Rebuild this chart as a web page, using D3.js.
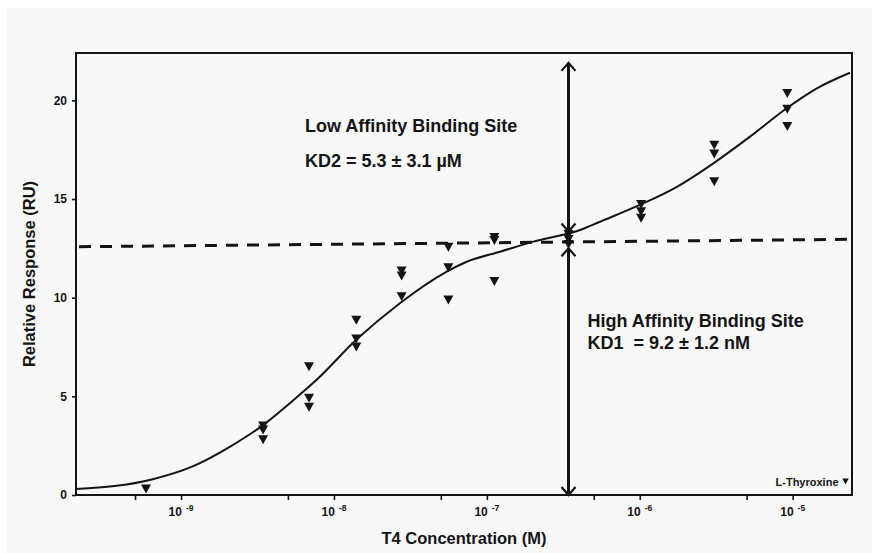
<!DOCTYPE html>
<html>
<head>
<meta charset="utf-8">
<script src="https://cdn.jsdelivr.net/npm/d3@7"></script>
<style>
  html, body { margin: 0; padding: 0; background: #ffffff; }
  svg { display: block; font-family: "Liberation Sans", Arial, Helvetica, sans-serif; }
</style>
</head>
<body>
<svg id="chart" width="872" height="553"></svg>
<script>
// Measured T4 concentrations (M) and the replicate SPR responses (RU) at each one
const concentrations = [5.9e-10, 3.44e-9, 6.87e-9, 1.40e-8, 2.77e-8, 5.6e-8, 1.12e-7, 3.42e-7, 1.02e-6, 3.07e-6, 9.22e-6];
const responses = [
  [0.3],
  [3.5, 3.3, 2.8],
  [6.5, 4.9, 4.45],
  [8.85, 7.9, 7.5],
  [11.35, 11.1, 10.05],
  [12.55, 11.52, 9.88],
  [13.05, 12.9, 10.82],
  [13.2, 12.95, 12.7],
  [14.72, 14.36, 14.02],
  [17.72, 17.28, 15.88],
  [20.35, 19.55, 18.67]
];

// Two-site fit curve
const fitConcentrations = [2.06e-10, 6.53e-10, 1.19e-9, 2.07e-9, 3.42e-9, 5.1e-9, 7.64e-9, 1.41e-8, 2.70e-8, 5.47e-8, 7.39e-8, 1.22e-7, 2.01e-7, 4.07e-7, 5.5e-7, 1.0e-6, 1.75e-6, 3.03e-6, 5.26e-6, 9.14e-6, 1.44e-5, 2.37e-5];
const fitResponses      = [0.3, 0.8, 1.45, 2.43, 3.53, 4.63, 5.81, 7.89, 9.72, 11.32, 11.82, 12.33, 12.84, 13.43, 13.85, 14.7, 15.62, 16.81, 18.16, 19.6, 20.61, 21.4];

// Plateau of the high-affinity site (dashed), value at left and right edges
const plateauLevels = [12.58, 12.96];

// Double arrows marking the two binding-site amplitudes
const arrowConcentration = 3.42e-7;
const lowAffinitySpan = [21.9, 13.35];
const highAffinitySpan = [12.5, 0];

// Axis ticks
const yTicks = [0, 5, 10, 15, 20];
const xDecadeExponents = [-9, -8, -7, -6, -5];
const xHalfDecadeTicks = [5e-10, 5e-9, 5e-8, 5e-7, 5e-6];

// Texts
const lowAffinityLines = ["Low Affinity Binding Site", "KD2 = 5.3 \u00b1 3.1 \u00b5M"];
const highAffinityLines = ["High Affinity Binding Site", "KD1  = 9.2 \u00b1 1.2 nM"];
const seriesName = "L-Thyroxine";
const xTitle = "T4 Concentration (M)";
const yTitle = "Relative Response (RU)";

const W = 872, H = 553;
const plot = { left: 76, top: 53, right: 852, bottom: 495 };
const ink = "#141414";

const svg = d3.select("#chart");

// light panel behind the figure
svg.append("rect").attr("x", 7).attr("y", 8).attr("width", W - 7).attr("height", H - 8).attr("fill", "#f8f8f8");

const x = d3.scaleLog()
  .domain([Math.pow(10, -9.687), Math.pow(10, -4.612)])
  .range([plot.left, plot.right]);
const y = d3.scaleLinear()
  .domain([0, 22.4])
  .range([plot.bottom, plot.top]);

// x axis ticks (decades and half-decades)
const xAxis = svg.append("g")
  .attr("transform", `translate(0,${plot.bottom})`)
  .call(d3.axisBottom(x)
    .tickValues(xDecadeExponents.map(e => Math.pow(10, e)).concat(xHalfDecadeTicks))
    .tickSize(5)
    .tickFormat(""));
xAxis.select(".domain").remove();
xAxis.selectAll(".tick line").attr("stroke", ink).attr("stroke-width", 1.6);

// decade labels written as 10 with a superscript exponent
const xLabels = svg.append("g").attr("font-weight", "bold").attr("fill", ink);
xDecadeExponents.forEach(e => {
  const t = xLabels.append("text")
    .attr("x", x(Math.pow(10, e)))
    .attr("y", 516)
    .attr("text-anchor", "middle")
    .attr("font-size", 12);
  t.append("tspan").text("10");
  t.append("tspan").attr("dx", 4).attr("dy", -5).attr("font-size", 8.5).text(String(e));
});

// y axis
const yAxis = svg.append("g")
  .attr("transform", `translate(${plot.left},0)`)
  .call(d3.axisLeft(y).tickValues(yTicks).tickSize(4).tickPadding(5).tickFormat(d3.format("d")));
yAxis.select(".domain").remove();
yAxis.selectAll(".tick line").attr("stroke", ink).attr("stroke-width", 1.6);
yAxis.selectAll(".tick text")
  .attr("font-size", 12).attr("font-weight", "bold").attr("fill", ink)
  .attr("font-family", "\"Liberation Sans\", Arial, sans-serif");

// frame
svg.append("rect")
  .attr("x", plot.left).attr("y", plot.top)
  .attr("width", plot.right - plot.left).attr("height", plot.bottom - plot.top)
  .attr("fill", "none").attr("stroke", ink).attr("stroke-width", 2);

// axis titles
svg.append("text")
  .attr("x", (plot.left + plot.right) / 2).attr("y", 544)
  .attr("text-anchor", "middle").attr("font-size", 16.5).attr("font-weight", "bold").attr("fill", ink)
  .text(xTitle);
svg.append("text")
  .attr("transform", `translate(35,${(plot.top + plot.bottom) / 2}) rotate(-90)`)
  .attr("text-anchor", "middle").attr("font-size", 16.5).attr("font-weight", "bold").attr("fill", ink)
  .text(yTitle);

// dashed plateau line across the plot
const xDom = x.domain();
svg.append("line")
  .attr("x1", x(xDom[0])).attr("y1", y(plateauLevels[0]))
  .attr("x2", x(xDom[1])).attr("y2", y(plateauLevels[1]))
  .attr("stroke", ink).attr("stroke-width", 3).attr("stroke-dasharray", "12,9")
  .attr("stroke-dashoffset", -3);

// fitted curve
const fit = fitConcentrations.map((c, i) => ({ c, r: fitResponses[i] }));
svg.append("path")
  .datum(fit)
  .attr("fill", "none").attr("stroke", ink).attr("stroke-width", 2)
  .attr("d", d3.line().x(d => x(d.c)).y(d => y(d.r)).curve(d3.curveMonotoneX));

// data points as downward triangles
const triangle = "M-5,-4.5L5,-4.5L0,4.5Z";
const points = [];
concentrations.forEach((c, i) => responses[i].forEach(r => points.push({ c, r })));
svg.append("g").selectAll("path")
  .data(points)
  .join("path")
  .attr("d", triangle)
  .attr("transform", d => `translate(${x(d.c)},${y(d.r)})`)
  .attr("fill", ink);

// double arrows
function doubleArrow(span) {
  const ax = x(arrowConcentration);
  const yTop = y(span[0]), yBot = y(span[1]);
  const g = svg.append("g").attr("stroke", ink).attr("fill", "none");
  g.append("line").attr("x1", ax).attr("x2", ax).attr("y1", yTop).attr("y2", yBot).attr("stroke-width", 3);
  g.append("path").attr("stroke-width", 2.2)
    .attr("d", `M${ax - 7},${yTop + 8}L${ax},${yTop}L${ax + 7},${yTop + 8}`);
  g.append("path").attr("stroke-width", 2.2)
    .attr("d", `M${ax - 7},${yBot - 8}L${ax},${yBot}L${ax + 7},${yBot - 8}`);
}
doubleArrow(lowAffinitySpan);
doubleArrow(highAffinitySpan);

// binding-site annotations
function noteBlock(lines, x0, baselines) {
  lines.forEach((s, i) => {
    svg.append("text")
      .attr("x", x0).attr("y", baselines[i])
      .attr("font-size", 18).attr("font-weight", "bold").attr("fill", ink)
      .style("white-space", "pre")
      .text(s);
  });
}
noteBlock(lowAffinityLines, 305, [131.5, 166.5]);
noteBlock(highAffinityLines, 587.5, [326.5, 349]);

// series key in the lower right corner
svg.append("text")
  .attr("x", 838.5).attr("y", 485.5)
  .attr("text-anchor", "end").attr("font-size", 11).attr("font-weight", "bold").attr("fill", ink)
  .text(seriesName);
svg.append("path")
  .attr("d", "M-3.2,-3L3.2,-3L0,3Z")
  .attr("transform", "translate(845.5,481.5)")
  .attr("fill", ink);
</script>
</body>
</html>
